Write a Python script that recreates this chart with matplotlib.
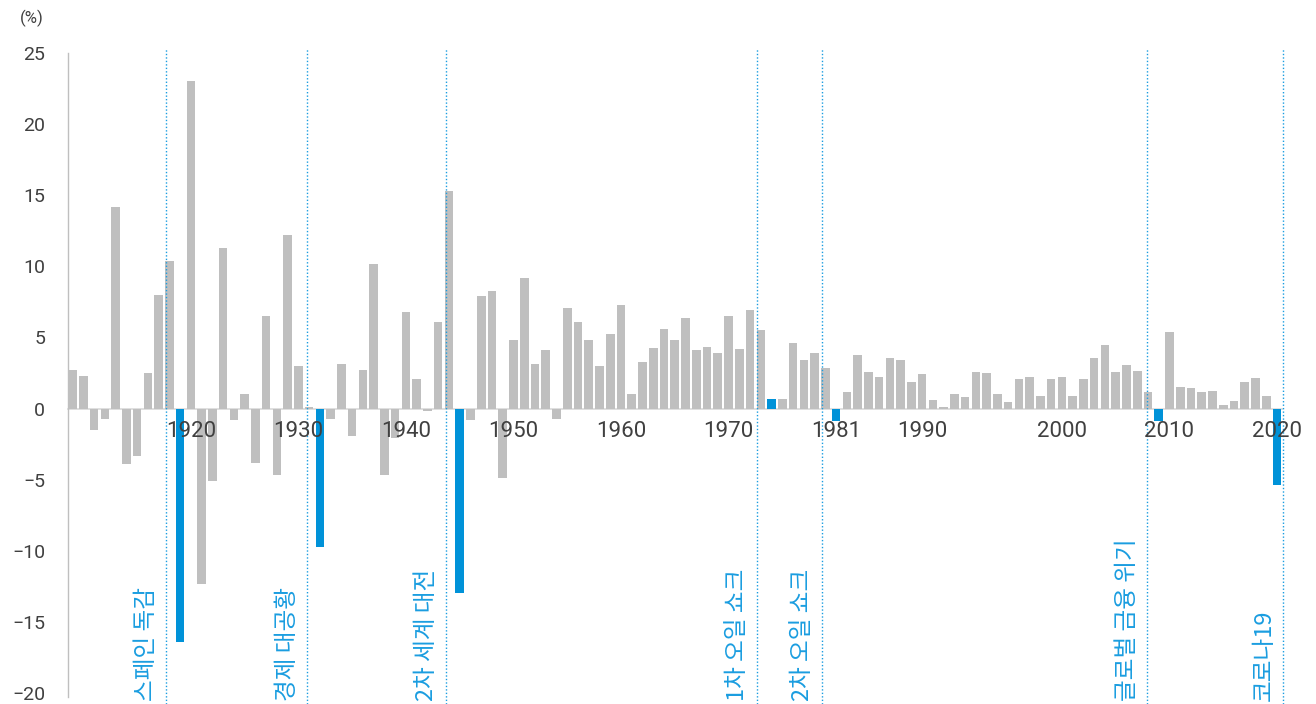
import matplotlib
matplotlib.use("Agg")
import matplotlib.pyplot as plt
import matplotlib.transforms as mtransforms

plt.rcParams['font.family'] = ['Noto Sans CJK KR', 'DejaVu Sans']

# GDP growth (%) per bar, left to right
growth = [2.7, 2.3, -1.5, -0.7, 14.2, -3.9, -3.3, 2.5, 8.0, 10.4,
          -16.4, 23.0, -12.3, -5.1, 11.3, -0.8, 1.0, -3.8, 6.5, -4.7,
          12.2, 3.0, 0.1, -9.7, -0.7, 3.1, -1.9, 2.7, 10.2, -4.7,
          -2.1, 6.8, 2.1, -0.2, 6.1, 15.3, -13.0, -0.8, 7.9, 8.25,
          -4.9, 4.8, 9.2, 3.1, 4.1, -0.7, 7.1, 6.1, 4.8, 3.0,
          5.25, 7.3, 1.0, 3.3, 4.25, 5.6, 4.85, 6.4, 4.1, 4.35,
          3.9, 6.5, 4.2, 6.9, 5.5, 0.65, 0.65, 4.6, 3.4, 3.9,
          2.85, -0.9, 1.15, 3.75, 2.55, 2.25, 3.55, 3.45, 1.9, 2.4,
          0.6, 0.1, 1.0, 0.8, 2.55, 2.5, 1.0, 0.45, 2.05, 2.25,
          0.9, 2.05, 2.25, 0.9, 2.05, 3.55, 4.45, 2.55, 3.05, 2.65,
          1.15, -0.9, 5.4, 1.55, 1.45, 1.15, 1.25, 0.25, 0.55, 1.85,
          2.15, 0.9, -5.4]

# bars (by position) highlighted as crisis years
crisis_bars = [10, 23, 36, 65, 71, 101, 112]

# x tick labels and the bar under each
tick_labels = ["1920", "1930", "1940", "1950", "1960", "1970", "1981", "1990", "2000", "2010", "2020"]
tick_bars = [11, 21, 31, 41, 51, 61, 71, 79, 92, 102, 112]

# events and where their dotted separator sits (in bar units)
events = ["스페인 독감", "경제 대공황", "2차 세계 대전", "1차 오일 쇼크", "2차 오일 쇼크", "글로벌 금융 위기", "코로나19"]
event_pos = [8.72, 21.8, 34.74, 63.66, 69.65, 99.93, 112.6]

yticks = [25, 20, 15, 10, 5, 0, -5, -10, -15, -20]

GRAY = "#bfbfbf"
BLUE = "#0092d8"
TBLUE = "#1a9de0"
TXT = "#404040"
NUMFONT = 'Roboto'

fig = plt.figure(figsize=(13.16, 7.04), dpi=100)
ax = fig.add_axes([0.0517, 0.0156, 0.9221, 0.9091])

x = list(range(len(growth)))
colors = [BLUE if i in crisis_bars else GRAY for i in x]
ax.bar(x, growth, width=0.8, color=colors, zorder=2)

for s in ['top', 'right']:
    ax.spines[s].set_visible(False)
ax.spines['bottom'].set_position(('data', 0))
ax.spines['bottom'].set_color("#d9d9d9")
ax.spines['bottom'].set_linewidth(1.2)
ax.spines['left'].set_color("#bfbfbf")
ax.spines['left'].set_linewidth(1.0)
ax.spines['left'].set_bounds(-20.3, 25)

ax.set_xlim(-0.42, len(growth) - 1 + 0.42)
ax.set_ylim(-20, 25)
ax.set_yticks(yticks)
ax.set_yticklabels([str(v).replace("-", "\u2212") for v in yticks])
ax.tick_params(axis='y', length=0, pad=16.5, labelsize=14, labelcolor=TXT,
               labelfontfamily=NUMFONT)

ax.set_xticks(tick_bars)
ax.set_xticklabels(tick_labels)
ax.tick_params(axis='x', length=0, pad=9, labelsize=16, labelcolor=TXT,
               labelfontfamily=NUMFONT)

ax.xaxis.set_zorder(3)
ax.yaxis.set_zorder(3)
ax.spines['bottom'].set_zorder(1)

# event separators and labels
trans = mtransforms.blended_transform_factory(ax.transData, fig.transFigure)
for name, xp in zip(events, event_pos):
    ax.plot([xp, xp], [0.0, 1 - 48 / 704], transform=trans, color=TBLUE,
            linestyle=(0, (1, 1.5)), linewidth=1.0, clip_on=False, zorder=3)
    off = mtransforms.offset_copy(trans, fig=fig, x=-8, y=0, units='dots')
    ax.text(xp, 3 / 704, name, transform=off, rotation=90, ha='right', va='bottom',
            fontsize=17, color=TBLUE, zorder=4)

fig.text(32 / 1316, 1 - 18 / 704, "(%)", ha='center', va='center', fontsize=12,
         color=TXT, family=NUMFONT)

fig.savefig("out.png", dpi=100)
